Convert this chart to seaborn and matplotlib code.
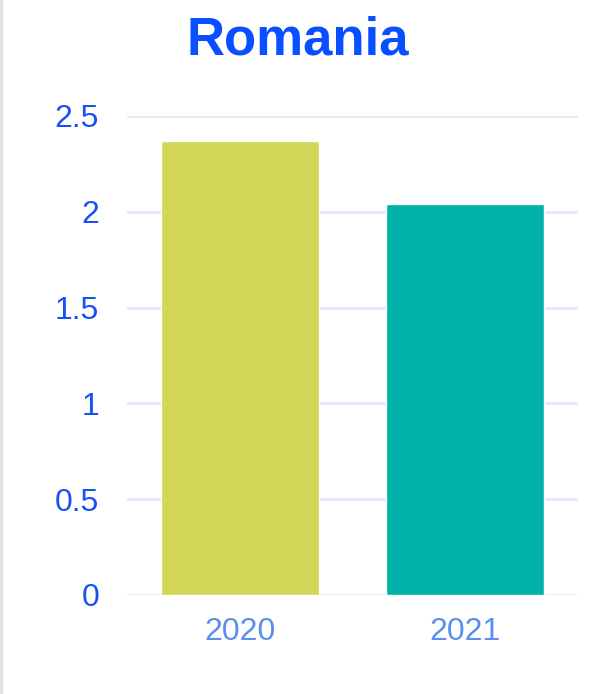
import pandas as pd
import matplotlib.pyplot as plt
import matplotlib.lines as mlines
import seaborn as sns

# data
years = ["2020", "2021"]
values = [2.37, 2.04]
bar_colors = ["#D3D757", "#00B2A9"]

df = pd.DataFrame({"year": years, "value": values})

sns.set_style("white")
plt.rcParams['font.family'] = ['Liberation Sans', 'DejaVu Sans']

fig = plt.figure(figsize=(6.02, 6.94), dpi=100)
ax = fig.add_axes([0.211, 0.1427, 0.749, 0.6902])

sns.barplot(data=df, x="year", y="value", hue="year", palette=bar_colors,
            width=0.7, legend=False, saturation=1, ax=ax)

ax.set_ylim(0, 2.5)
ax.set_yticks([0, 0.5, 1, 1.5, 2, 2.5])
ax.set_yticklabels(["0", "0.5", "1", "1.5", "2", "2.5"])
ax.yaxis.grid(True, color="#dfe7fb", linewidth=1.8)
ax.set_axisbelow(True)
for s in ax.spines.values():
    s.set_visible(False)

ax.tick_params(axis="y", length=0, pad=20, labelsize=23, labelcolor="#1852f5")
ax.tick_params(axis="x", length=0, pad=16, labelsize=23, labelcolor="#5b8ef0")
ax.set_xlabel("")
ax.set_ylabel("")

fig.text(0.495, 0.942, "Romania", ha="center", va="center",
         fontsize=38, fontweight="bold", color="#0a4fff")

# thin grey border at the left edge
fig.add_artist(mlines.Line2D([0.002, 0.002], [0, 1], color="#e2e2e2",
                             linewidth=2.5, transform=fig.transFigure))

plt.savefig("out.png", dpi=100)
